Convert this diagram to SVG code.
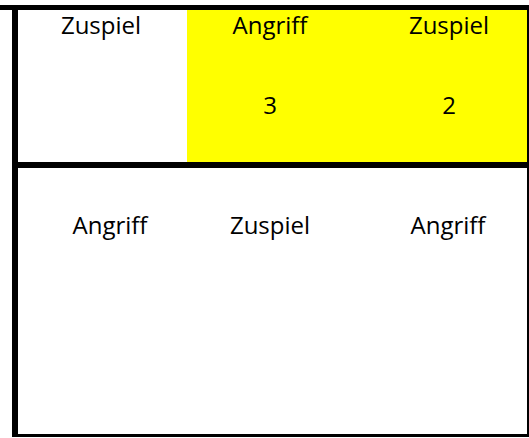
<svg xmlns="http://www.w3.org/2000/svg" width="529" height="438" viewBox="0 0 529 438">
<style>
.t{font-family:"Open Sans","Liberation Sans",sans-serif;font-size:24px;fill:#000;text-anchor:middle}
</style>
<rect width="529" height="438" fill="#fff"/>
<g id="yellow-cell"><rect x="187" y="10" width="340" height="152" fill="#ffff00"/></g>
<g id="borders" fill="#000">
<rect x="0" y="5" width="529" height="5"/>
<rect x="12" y="5" width="6" height="432"/>
<rect x="12" y="162" width="517" height="6"/>
<rect x="527" y="5" width="2" height="432"/>
<rect x="12" y="434" width="517" height="3"/>
</g>
<g id="top-row">
<text class="t" x="101" y="34">Zuspiel</text>
<text class="t" x="270" y="34">Angriff</text>
<text class="t" x="449" y="34">Zuspiel</text>
<text class="t" x="270" y="114">3</text>
<text class="t" x="449" y="114">2</text>
</g>
<g id="bottom-row">
<text class="t" x="110" y="234">Angriff</text>
<text class="t" x="270" y="234">Zuspiel</text>
<text class="t" x="448" y="234">Angriff</text>
</g>
</svg>
